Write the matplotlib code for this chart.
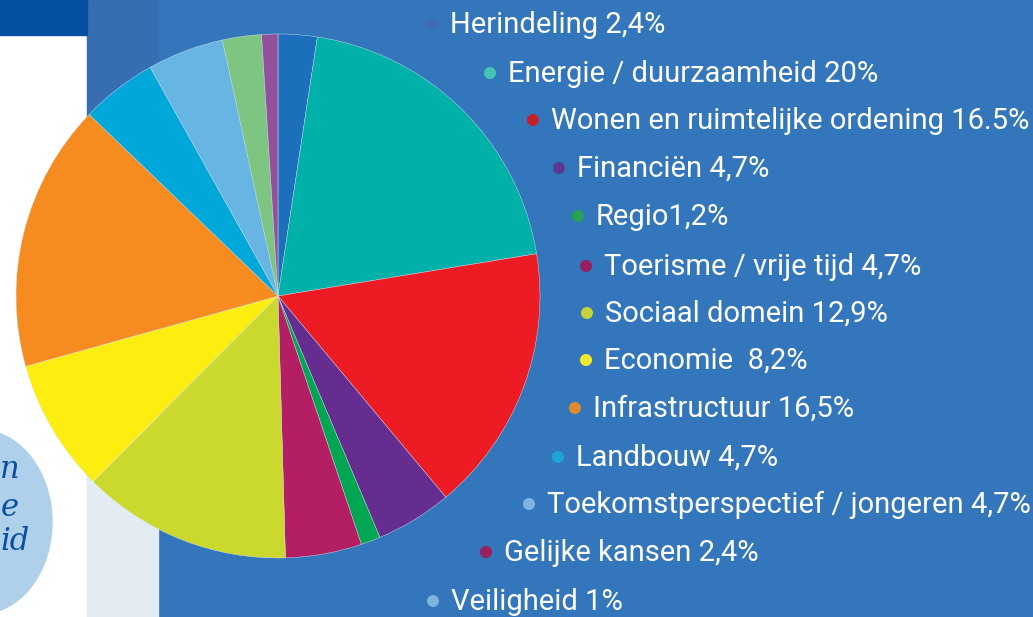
from matplotlib import pyplot as plt
from matplotlib.patches import Rectangle, Ellipse

# slices, clockwise from the top
labels = ['Herindeling 2,4%', 'Energie / duurzaamheid 20%', 'Wonen en ruimtelijke ordening 16.5%',
          'Financiën 4,7%', 'Regio1,2%', 'Toerisme / vrije tijd 4,7%', 'Sociaal domein 12,9%',
          'Economie  8,2%', 'Infrastructuur 16,5%', 'Landbouw 4,7%',
          'Toekomstperspectief / jongeren 4,7%', 'Gelijke kansen 2,4%', 'Veiligheid 1%']
values = [2.4, 20, 16.5, 4.7, 1.2, 4.7, 12.9, 8.2, 16.5, 4.7, 4.7, 2.4, 1]
slice_colors = ['#1c6fba', '#00b1a9', '#ed1c24', '#662d91', '#00a651', '#b41f63', '#cbd92f',
                '#fcee10', '#f68b1f', '#00a8d9', '#66b5e2', '#7ec582', '#91519d']
dot_colors = ['#3c6bb3', '#46c3b2', '#c8202a', '#5b3b91', '#26a156', '#951f5f', '#c6d43a',
              '#f2ea2a', '#e08a2a', '#1ca4d8', '#7fb3e0', '#9b1e5e', '#7fb3e0']
# legend layout (pixels) - labels follow an arc round the pie
dot_x = [432, 490, 533, 559, 578, 586, 587, 586, 575, 558, 529, 486, 433]
row_y = [24, 73, 120, 168, 216, 266, 313, 360, 408, 457, 504, 552, 601]

W, H = 1033, 617
fig = plt.figure(figsize=(W / 100, H / 100), dpi=100)

# background in pixel coordinates
bg = fig.add_axes([0, 0, 1, 1])
bg.set_xlim(0, W)
bg.set_ylim(H, 0)
bg.axis('off')
bg.add_patch(Rectangle((0, 0), W, H, color='white'))
bg.add_patch(Rectangle((158, 0), W - 158, H, color='#3476bb'))
bg.add_patch(Rectangle((87, 0), 71, 300, color='#376db1'))
bg.add_patch(Rectangle((87, 300), 71, H - 300, color='#e3ebf3'))
bg.add_patch(Rectangle((0, 0), 87, 35, color='#054fa3'))
bg.add_patch(Ellipse((-20, 522), 144, 184, color='#afd0ea'))
for txt, tx, ty in [('n', 19, 470), ('e', 19, 507), ('id', 30, 542)]:
    bg.text(tx, ty, txt, ha='right', va='center', fontsize=22, style='italic',
            color='#0a4ea2', family='DejaVu Serif')

# legend
for lab, col, x, y in zip(labels, dot_colors, dot_x, row_y):
    bg.scatter([x], [y], s=75, color=col, edgecolors='none', zorder=3)
    bg.text(x + 18, y + 1, lab, ha='left', va='center', fontsize=21, color='white',
            family='Roboto')

# pie, centre (278, 296) px, radius 262 px
cx, cy, r = 278, 296, 262
ax = fig.add_axes([(cx - r) / W, (H - cy - r) / H, 2 * r / W, 2 * r / H])
ax.pie(values, colors=slice_colors, startangle=90, counterclock=False, radius=1,
       wedgeprops={'edgecolor': '#d8e4f0', 'linewidth': 0.3})
ax.set_xlim(-1, 1)
ax.set_ylim(-1, 1)
ax.set_aspect('equal')
ax.axis('off')

fig.savefig('out.png', dpi=100)
